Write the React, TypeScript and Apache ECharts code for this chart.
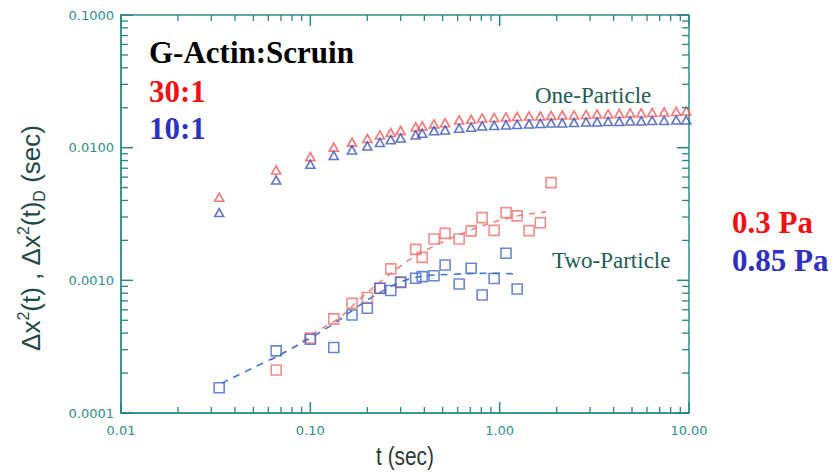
import React, { useEffect, useRef } from "react";
import * as echarts from "echarts";

// ---------- data ----------
const tOne = [
  0.033, 0.066, 0.1, 0.133, 0.166, 0.2, 0.233, 0.266, 0.3, 0.36, 0.39, 0.45, 0.515,
  0.611, 0.707, 0.808, 0.935, 1.08, 1.237, 1.43, 1.64, 1.87, 2.14, 2.47, 2.86, 3.27,
  3.74, 4.28, 4.89, 5.59, 6.39, 7.39, 8.56, 9.67,
];
const oneRed = [
  0.00423, 0.00679, 0.00855, 0.0101, 0.011, 0.01174, 0.01247, 0.013, 0.01349, 0.01432,
  0.01457, 0.0151, 0.01543, 0.01617, 0.01637, 0.01675, 0.01688, 0.01703, 0.01718, 0.01733,
  0.01733, 0.0175, 0.01764, 0.01764, 0.01778, 0.01795, 0.01795, 0.0181, 0.01826, 0.01826,
  0.01842, 0.01858, 0.01875, 0.0189,
];
const oneBlue = [
  0.00324, 0.00571, 0.0075, 0.00873, 0.00961, 0.0103, 0.01094, 0.01149, 0.01184, 0.01247,
  0.01284, 0.01343, 0.0136, 0.014, 0.01425, 0.01457, 0.0147, 0.01483, 0.01496, 0.0151,
  0.01523, 0.01536, 0.01536, 0.0155, 0.01562, 0.01562, 0.01576, 0.01576, 0.0159, 0.0159,
  0.01603, 0.01603, 0.01617, 0.01617,
];
const tTwoRed = [
  0.066, 0.1, 0.133, 0.166, 0.2, 0.233, 0.266, 0.3, 0.36, 0.39, 0.45, 0.515, 0.611,
  0.707, 0.808, 0.935, 1.08, 1.237, 1.43, 1.64, 1.87,
];
const twoRed = [
  0.000211, 0.000368, 0.000512, 0.00067, 0.000743, 0.000869, 0.00122, 0.000973, 0.00171,
  0.00149, 0.00205, 0.00226, 0.00205, 0.00236, 0.00297, 0.00238, 0.00324, 0.00306,
  0.00237, 0.00272, 0.00545,
];
const tTwoBlue = [
  0.033, 0.066, 0.1, 0.133, 0.166, 0.2, 0.233, 0.266, 0.3, 0.36, 0.39, 0.45, 0.515,
  0.611, 0.707, 0.808, 0.935, 1.08, 1.237,
];
const twoBlue = [
  0.000155, 0.000294, 0.00036, 0.000312, 0.000548, 0.000616, 0.000872, 0.000839, 0.000964,
  0.001037, 0.001066, 0.001083, 0.001306, 0.000939, 0.001234, 0.000776, 0.001033, 0.0016,
  0.000861,
];
const fitBlueT = [0.034, 0.0515, 0.0773, 0.1257, 0.222, 0.345, 0.561, 0.955, 1.22];
const fitBlueV = [0.000168, 0.000224, 0.000299, 0.000448, 0.000776, 0.001037, 0.00111, 0.00113, 0.001117];
const fitRedT = [0.062, 0.082, 0.107, 0.142, 0.188, 0.295, 0.409, 0.665, 1.164, 1.76];
const fitRedV = [0.000251, 0.000315, 0.000408, 0.000521, 0.00075, 0.00126, 0.00169, 0.00232, 0.003, 0.00328];

const xDecades = [0.01, 0.1, 1, 10];
const yDecades = [0.0001, 0.001, 0.01, 0.1];
const xTickLabels = ["0.01", "0.10", "1.00", "10.00"];
const yTickLabels = ["0.0001", "0.0010", "0.0100", "0.1000"];

const X_MIN = 0.01, X_MAX = 10, Y_MIN = 0.0001, Y_MAX = 0.1;
const AXIS = "#2f8f88";
const TICK = "#2a857f";
const RED = "#f05a5a";
const BLUE = "#3b52b8";
const SQ_RED = "#f07272";
const SQ_BLUE = "#4668c6";

const minorsOf = (decs: number[]) => {
  const out: number[] = [];
  for (let i = 0; i < decs.length - 1; i++) for (let k = 2; k <= 9; k++) out.push(decs[i] * k);
  return out;
};

const zip = (a: number[], b: number[]) => a.map((v, i) => [v, b[i]]);

const labelFor = (v: number, decs: number[], labels: string[]) => {
  for (let i = 0; i < decs.length; i++) if (Math.abs(Math.log10(v) - Math.log10(decs[i])) < 1e-6) return labels[i];
  return "";
};

const bigText = (text: string, x: number, y: number, fill: string, size = 31) => ({
  type: "text",
  x,
  y,
  z: 100,
  style: {
    text,
    fill,
    font: `bold ${size}px "Liberation Serif", "Times New Roman", serif`,
    align: "left",
    verticalAlign: "middle",
    textAlign: "left",
    textVerticalAlign: "middle",
  },
});

const plainText = (text: string, x: number, y: number, fill: string, size = 23) => ({
  type: "text",
  x,
  y,
  z: 100,
  style: {
    text,
    fill,
    font: `${size}px "Liberation Serif", "Times New Roman", serif`,
    align: "left",
    verticalAlign: "middle",
    textAlign: "left",
    textVerticalAlign: "middle",
  },
});

export default function App() {
  const ref = useRef<HTMLDivElement>(null);
  useEffect(() => {
    if (!ref.current) return;
    const chart = echarts.init(ref.current, null, { renderer: "svg" });
    const yTitleColor = "#1e4a48";
    const xMinor = minorsOf(xDecades);
    const yMinor = minorsOf(yDecades);

    const texts: any[] = [
      bigText("G-Actin:Scruin", 149, 52, "#000000"),
      bigText("30:1", 149, 91, "#f01010"),
      bigText("10:1", 149, 128, "#3030c0"),
      bigText("0.3 Pa", 732, 222, "#f01010"),
      bigText("0.85 Pa", 732, 260, "#3030c0"),
      plainText("One-Particle", 535, 95, "#1d5e56"),
      plainText("Two-Particle", 552, 260, "#1d5e56"),
      {
        type: "text",
        x: 405,
        y: 456,
        scaleX: 0.8,
        z: 100,
        style: {
          text: "t (sec)",
          fill: "#2b3838",
          font: '26px "Liberation Sans", Arial, sans-serif',
          align: "center",
          verticalAlign: "middle",
          textAlign: "center",
          textVerticalAlign: "middle",
        },
      },
      {
        type: "text",
        x: 31,
        y: 238,
        rotation: Math.PI / 2,
        z: 100,
        style: {
          text: "{a|Δx}{s|2}{a|(t) , Δx}{s|2}{a|(t)}{d|D}{a| (sec)}",
          align: "center",
          verticalAlign: "middle",
          textAlign: "center",
          textVerticalAlign: "middle",
          rich: {
            a: { fontSize: 26, fontFamily: "Liberation Sans", fill: yTitleColor, color: yTitleColor, lineHeight: 32, verticalAlign: "middle" },
            s: { fontSize: 16, fontFamily: "Liberation Sans", fill: yTitleColor, color: yTitleColor, lineHeight: 16, verticalAlign: "top" },
            d: { fontSize: 16, fontFamily: "Liberation Sans", fill: yTitleColor, color: yTitleColor, lineHeight: 16, verticalAlign: "bottom" },
          },
        },
      },
    ];

    chart.setOption({
      animation: false,
      backgroundColor: "#ffffff",
      grid: {
        left: 121,
        right: 146,
        top: 15,
        bottom: 59,
        show: true,
        borderColor: AXIS,
        borderWidth: 1.5,
      },
      xAxis: {
        type: "log",
        logBase: 10,
        min: X_MIN,
        max: X_MAX,
        splitNumber: 3,
        axisLine: { show: true, onZero: false, lineStyle: { color: AXIS, width: 1.5 } },
        axisTick: { show: false },
        splitLine: { show: false },
        axisLabel: {
          color: AXIS,
          fontFamily: "DejaVu Sans",
          fontSize: 13,
          margin: 11,
          formatter: (v: number) => labelFor(v, xDecades, xTickLabels),
        },
      },
      yAxis: {
        type: "log",
        logBase: 10,
        min: Y_MIN,
        max: Y_MAX,
        splitNumber: 3,
        axisLine: { show: true, onZero: false, lineStyle: { color: AXIS, width: 1.5 } },
        axisTick: { show: false },
        splitLine: { show: false },
        axisLabel: {
          color: AXIS,
          fontFamily: "DejaVu Sans",
          fontSize: 13,
          margin: 7,
          formatter: (v: number) => labelFor(v, yDecades, yTickLabels),
        },
      },
      series: [
        {
          type: "line",
          data: zip(fitRedT, fitRedV),
          smooth: 0.4,
          symbol: "none",
          lineStyle: { color: "#f28686", width: 1.6, type: [6, 6] },
          z: 2,
        },
        {
          type: "line",
          data: zip(fitBlueT, fitBlueV),
          smooth: 0.4,
          symbol: "none",
          lineStyle: { color: "#3a7cd0", width: 1.6, type: [7, 6] },
          z: 2,
        },
        {
          type: "scatter",
          data: zip(tTwoRed, twoRed),
          symbol: "rect",
          symbolSize: 10,
          itemStyle: { color: "rgba(0,0,0,0)", borderColor: SQ_RED, borderWidth: 1.6 },
          z: 3,
        },
        {
          type: "scatter",
          data: zip(tTwoBlue, twoBlue),
          symbol: "rect",
          symbolSize: 10,
          itemStyle: { color: "rgba(0,0,0,0)", borderColor: SQ_BLUE, borderWidth: 1.6 },
          z: 3,
        },
        {
          type: "scatter",
          data: zip(tOne, oneRed),
          symbol: "triangle",
          symbolSize: [9, 8],
          itemStyle: { color: "rgba(0,0,0,0)", borderColor: RED, borderWidth: 1.7 },
          z: 4,
        },
        {
          type: "scatter",
          data: zip(tOne, oneBlue),
          symbol: "triangle",
          symbolSize: [9, 8],
          itemStyle: { color: "rgba(0,0,0,0)", borderColor: BLUE, borderWidth: 1.6 },
          z: 4,
        },
      ],
      graphic: texts,
    });

    // tick marks on all four sides: positions come from the chart's own log scales
    const px = (v: number[]) => chart.convertToPixel({ gridIndex: 0 }, v) as number[];
    const ticks: any[] = [];
    const line = (x1: number, y1: number, x2: number, y2: number, w: number) =>
      ticks.push({ type: "line", z: 50, silent: true, shape: { x1, y1, x2, y2 }, style: { stroke: TICK, lineWidth: w } });
    const addX = (vals: number[], len: number, w: number) =>
      vals.forEach((v) => {
        const b = px([v, Y_MIN]);
        const t = px([v, Y_MAX]);
        if (!b || !t || isNaN(b[0])) return;
        line(b[0], b[1], b[0], b[1] - len, w);
        line(t[0], t[1], t[0], t[1] + len, w);
      });
    const addY = (vals: number[], len: number, w: number) =>
      vals.forEach((v) => {
        const l = px([X_MIN, v]);
        const r = px([X_MAX, v]);
        if (!l || !r || isNaN(l[1])) return;
        line(l[0], l[1], l[0] + len, l[1], w);
        line(r[0], r[1], r[0] - len, r[1], w);
      });
    addX(xDecades, 11, 1.5);
    addX(xMinor, 6, 1.3);
    addY(yDecades, 12, 1.5);
    addY(yMinor, 7, 1.3);
    chart.setOption({ graphic: [...texts, ...ticks] });

    return () => chart.dispose();
  }, []);
  return (
    <div
      ref={ref}
      style={{ position: "fixed", left: 0, top: 0, width: 835, height: 472, background: "#fff" }}
    />
  );
}
